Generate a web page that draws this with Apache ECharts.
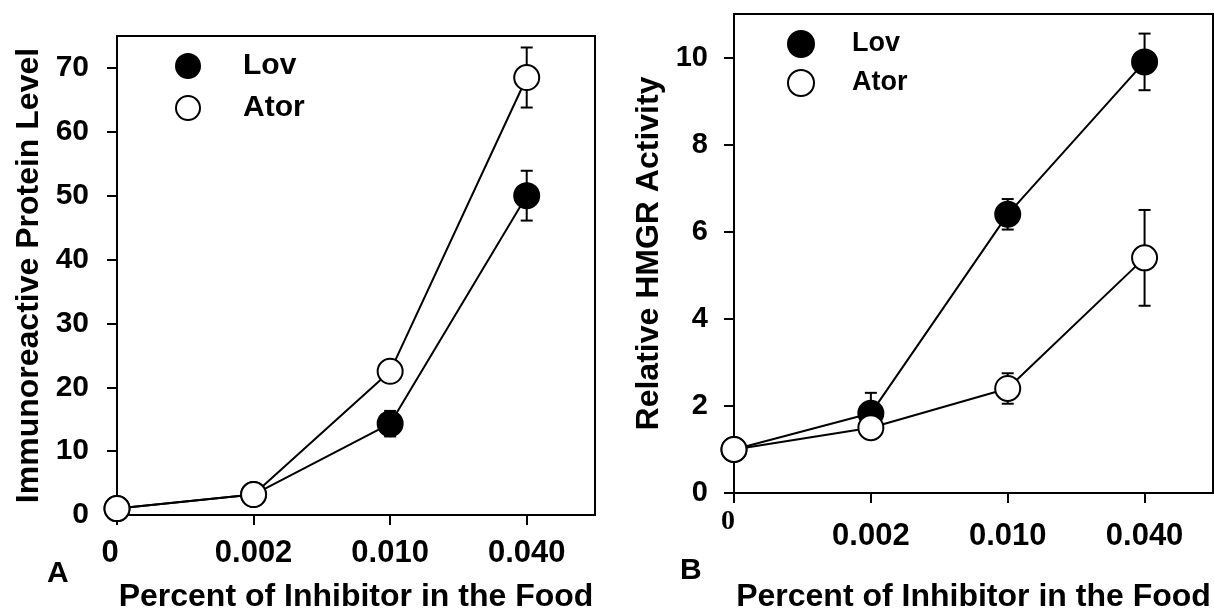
<!doctype html>
<html>
<head>
<meta charset="utf-8">
<title>Inhibitor dose response</title>
<script src="https://cdn.jsdelivr.net/npm/echarts@6/dist/echarts.min.js"></script>
<style>
  html, body { margin: 0; padding: 0; background: #fff; }
  #main { width: 1214px; height: 610px; }
</style>
</head>
<body>
<div id="main"></div>
<script>
// dose categories (placed at 0,1,2,3 on the x axis)
var doses = ['0', '0.002', '0.010', '0.040'];
var doseTicks = [0, 1, 2, 3];

// panel A: immunoreactive protein level
var lovProtein = [1.0, 3.2, 14.3, 50.0];
var lovProteinErr = [0, 0, 2.0, 3.9];
var atorProtein = [1.0, 3.2, 22.5, 68.5];
var atorProteinErr = [0, 0, 0, 4.7];
var proteinTicks = [0, 10, 20, 30, 40, 50, 60, 70];

// panel B: relative HMGR activity
var lovActivity = [1.0, 1.83, 6.4, 9.9];
var lovActivityErr = [0, 0.47, 0.35, 0.65];
var atorActivity = [1.0, 1.5, 2.4, 5.4];
var atorActivityErr = [0, 0, 0.35, 1.1];
var activityTicks = [0, 2, 4, 6, 8, 10];

var FONT = '"Liberation Sans", Arial, sans-serif';

function pts(vals) {
  return vals.map(function (v, i) { return [doseTicks[i], v]; });
}
function errPts(vals, errs) {
  return vals.map(function (v, i) { return [doseTicks[i], v, errs[i]]; });
}

// vertical error bar with caps
function renderErr(params, api) {
  var x = api.value(0), y = api.value(1), e = api.value(2);
  if (!e) return;
  var top = api.coord([x, y + e]);
  var bot = api.coord([x, y - e]);
  var st = { stroke: '#000', lineWidth: 2 };
  return {
    type: 'group',
    children: [
      { type: 'line', shape: { x1: top[0], y1: top[1], x2: bot[0], y2: bot[1] }, style: st },
      { type: 'line', shape: { x1: top[0] - 6, y1: top[1], x2: top[0] + 6, y2: top[1] }, style: st },
      { type: 'line', shape: { x1: bot[0] - 6, y1: bot[1], x2: bot[0] + 6, y2: bot[1] }, style: st }
    ]
  };
}

function errSeries(idx, vals, errs) {
  return {
    type: 'custom', xAxisIndex: idx, yAxisIndex: idx, z: 1,
    renderItem: renderErr, data: errPts(vals, errs), silent: true, clip: false
  };
}

function lineSeries(idx, name, vals, filled) {
  return {
    type: 'line', name: name, xAxisIndex: idx, yAxisIndex: idx, z: 3,
    data: pts(vals), clip: false,
    symbol: 'circle', symbolSize: 25,
    lineStyle: { color: '#000', width: 2 },
    itemStyle: { color: filled ? '#000' : '#fff', borderColor: '#000', borderWidth: 2 },
    emphasis: { disabled: true }
  };
}

function xAxisFor(idx, margin, nameGap, zeroStyle) {
  return {
    type: 'value', gridIndex: idx, min: 0, max: 3.5, interval: 1,
    name: 'Percent of Inhibitor in the Food', nameLocation: 'middle', nameGap: nameGap,
    nameTextStyle: { fontFamily: FONT, fontWeight: 'bold', fontSize: 32, color: '#000' },
    axisLine: { lineStyle: { color: '#000', width: 2 } },
    axisTick: { length: 10, lineStyle: { color: '#000', width: 2 }, customValues: doseTicks },
    splitLine: { show: false },
    axisLabel: {
      customValues: doseTicks, margin: margin,
      fontFamily: FONT, fontWeight: 'bold', fontSize: 31, color: '#000',
      formatter: function (v) { return v === 0 ? '{z|' + doses[0] + '}' : doses[v]; },
      rich: { z: zeroStyle }
    }
  };
}

function yAxisFor(idx, max, ticks, name, margin, nameGap, fontSize) {
  return {
    type: 'value', gridIndex: idx, min: 0, max: max,
    name: name, nameLocation: 'middle', nameGap: nameGap,
    nameTextStyle: { fontFamily: FONT, fontWeight: 'bold', fontSize: 32, color: '#000' },
    axisLine: { show: true, lineStyle: { color: '#000', width: 2 } },
    axisTick: { show: true, length: 10, lineStyle: { color: '#000', width: 2 }, customValues: ticks },
    splitLine: { show: false },
    axisLabel: {
      customValues: ticks, margin: margin,
      fontFamily: FONT, fontWeight: 'bold', fontSize: fontSize, color: '#000'
    }
  };
}

function legendFor(left, top, size, fontSize, gap, textPad) {
  return {
    orient: 'vertical', left: left, top: top, padding: 0,
    itemWidth: size, itemHeight: size, itemGap: gap,
    selectedMode: false,
    textStyle: { fontFamily: FONT, fontWeight: 'bold', fontSize: fontSize, color: '#000',
                 lineHeight: size, padding: [0, 0, 0, textPad] },
    data: [
      { name: 'Lov', icon: 'circle', itemStyle: { color: '#000', borderColor: '#000', borderWidth: 2 } },
      { name: 'Ator', icon: 'circle', itemStyle: { color: '#fff', borderColor: '#000', borderWidth: 2 } }
    ]
  };
}

var chart = echarts.init(document.getElementById('main'));
chart.setOption({
  animation: false,
  backgroundColor: '#fff',
  grid: [
    { left: 117, top: 36, width: 478, height: 479, show: true, borderColor: '#000', borderWidth: 2,
      containLabel: false, outerBoundsMode: 'none' },
    { left: 734, top: 14, width: 479, height: 479, show: true, borderColor: '#000', borderWidth: 2,
      containLabel: false, outerBoundsMode: 'none' }
  ],
  xAxis: [
    xAxisFor(0, 23, 66, { padding: [0, 14, 0, 0], fontFamily: FONT, fontWeight: 'bold', fontSize: 31, color: '#000' }),
    xAxisFor(1, 28, 88, { padding: [0, 12, 0, 0], lineHeight: 2, fontFamily: '"Liberation Serif", serif',
                          fontWeight: 'bold', fontSize: 28, color: '#000' })
  ],
  yAxis: [
    yAxisFor(0, 75, proteinTicks, 'Immunoreactive Protein Level', 28, 72, 30),
    yAxisFor(1, 11, activityTicks, 'Relative HMGR Activity', 26, 69, 29)
  ],
  legend: [
    legendFor(175, 51, 24, 30, 12, 38),
    legendFor(787, 30, 26, 27, 11, 33)
  ],
  graphic: [
    { type: 'text', left: 47, top: 559, style: { text: 'A', fontFamily: FONT, fontWeight: 'bold', fontSize: 30, fill: '#000' } },
    { type: 'text', left: 680, top: 556, style: { text: 'B', fontFamily: FONT, fontWeight: 'bold', fontSize: 30, fill: '#000' } }
  ],
  series: [
    errSeries(0, lovProtein, lovProteinErr),
    errSeries(0, atorProtein, atorProteinErr),
    lineSeries(0, 'Lov', lovProtein, true),
    lineSeries(0, 'Ator', atorProtein, false),
    errSeries(1, lovActivity, lovActivityErr),
    errSeries(1, atorActivity, atorActivityErr),
    lineSeries(1, 'Lov', lovActivity, true),
    lineSeries(1, 'Ator', atorActivity, false)
  ]
});
</script>
</body>
</html>
